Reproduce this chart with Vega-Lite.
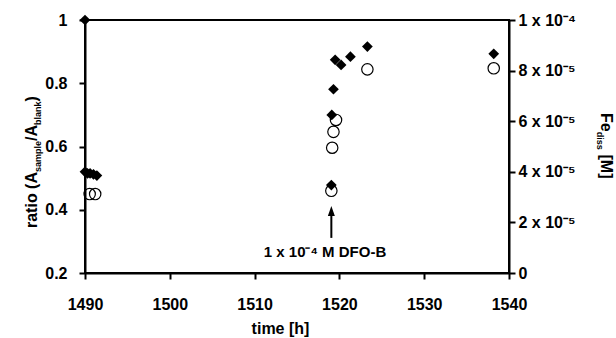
{
  "$schema": "https://vega.github.io/schema/vega-lite/v6.json",
  "width": 424,
  "height": 253,
  "autosize": {"type": "none"},
  "padding": {"left": 85, "top": 20, "right": 107, "bottom": 65},
  "background": "white",
  "config": {
    "font": "Liberation Sans",
    "view": {"stroke": "black", "strokeWidth": 2},
    "axis": {
      "domainColor": "black", "domainWidth": 2,
      "tickColor": "black", "tickWidth": 2, "tickSize": 6,
      "labelFont": "Liberation Sans", "labelFontSize": 16, "labelFontWeight": "bold", "labelColor": "black",
      "titleFont": "Liberation Sans", "titleFontSize": 16, "titleFontWeight": "bold", "titleColor": "black",
      "grid": false, "labelFlush": false
    },
    "text": {"font": "Liberation Sans", "fontWeight": "bold", "color": "black"}
  },
  "datasets": {
    "ratio": [
      {"time": 1490.0, "ratio": 1.0},
      {"time": 1490.0, "ratio": 0.52},
      {"time": 1490.3, "ratio": 0.515},
      {"time": 1490.6, "ratio": 0.515},
      {"time": 1491.0, "ratio": 0.512},
      {"time": 1491.4, "ratio": 0.508},
      {"time": 1519.05, "ratio": 0.478},
      {"time": 1519.1, "ratio": 0.70},
      {"time": 1519.3, "ratio": 0.781},
      {"time": 1519.5, "ratio": 0.874},
      {"time": 1520.2, "ratio": 0.858},
      {"time": 1521.3, "ratio": 0.884},
      {"time": 1523.3, "ratio": 0.916},
      {"time": 1538.2, "ratio": 0.893}
    ],
    "fe": [
      {"time": 1490.55, "fe": 0.0000312},
      {"time": 1491.2, "fe": 0.0000312},
      {"time": 1519.05, "fe": 0.0000325},
      {"time": 1519.15, "fe": 0.0000495},
      {"time": 1519.3, "fe": 0.0000558},
      {"time": 1519.6, "fe": 0.0000605},
      {"time": 1523.3, "fe": 0.0000805},
      {"time": 1538.2, "fe": 0.0000809}
    ],
    "one": [{}]
  },
  "layer": [
    {
      "layer": [
        {
          "data": {"name": "ratio"},
          "mark": {"type": "point", "shape": "diamond", "filled": true, "color": "black", "size": 115, "opacity": 1},
          "encoding": {
            "x": {"field": "time", "type": "quantitative", "title": "time [h]",
                  "scale": {"domain": [1490, 1540], "nice": false},
                  "axis": {"values": [1490, 1500, 1510, 1520, 1530, 1540], "format": "d", "labelPadding": 17, "titlePadding": 8, "titleX": 195, "titleAlign": "center"}},
            "y": {"field": "ratio", "type": "quantitative", "title": null,
                  "scale": {"domain": [0.2, 1], "nice": false},
                  "axis": {"values": [0.2, 0.4, 0.6, 0.8, 1], "labelPadding": 12, "labelExpr": "datum.value == 1 ? '1' : format(datum.value, '.1f')"}}
          }
        },
        {
          "data": {"name": "one"},
          "mark": {"type": "rule", "color": "black", "strokeWidth": 2},
          "encoding": {
            "x": {"datum": 1519.05, "title": null},
            "y": {"datum": 0.311, "title": null},
            "y2": {"datum": 0.393}
          }
        },
        {
          "data": {"name": "one"},
          "mark": {"type": "point", "shape": "M0,-1L0.7,1L-0.7,1Z", "filled": true, "color": "black", "size": 100, "opacity": 1},
          "encoding": {
            "x": {"datum": 1519.05, "title": null},
            "y": {"datum": 0.396, "title": null}
          }
        },
        {
          "data": {"name": "one"},
          "mark": {"type": "text", "text": "1 x 10⁻⁴ M DFO-B", "fontSize": 15, "align": "center", "baseline": "middle"},
          "encoding": {
            "x": {"datum": 1518.3, "title": null},
            "y": {"datum": 0.266, "title": null}
          }
        },
        {
          "data": {"name": "one"},
          "mark": {"type": "text", "text": "ratio (A", "fontSize": 16, "angle": 270, "align": "left", "baseline": "alphabetic", "dx": 45, "dy": -48},
          "encoding": {
            "x": {"datum": 1490, "title": null},
            "y": {"datum": 0.2, "title": null}
          }
        },
        {
          "data": {"name": "one"},
          "mark": {"type": "text", "text": "sample", "fontSize": 9, "angle": 270, "align": "left", "baseline": "alphabetic", "dx": 101, "dy": -44},
          "encoding": {
            "x": {"datum": 1490, "title": null},
            "y": {"datum": 0.2, "title": null}
          }
        },
        {
          "data": {"name": "one"},
          "mark": {"type": "text", "text": "/A", "fontSize": 16, "angle": 270, "align": "left", "baseline": "alphabetic", "dx": 132, "dy": -48},
          "encoding": {
            "x": {"datum": 1490, "title": null},
            "y": {"datum": 0.2, "title": null}
          }
        },
        {
          "data": {"name": "one"},
          "mark": {"type": "text", "text": "blank", "fontSize": 9, "angle": 270, "align": "left", "baseline": "alphabetic", "dx": 148, "dy": -44},
          "encoding": {
            "x": {"datum": 1490, "title": null},
            "y": {"datum": 0.2, "title": null}
          }
        },
        {
          "data": {"name": "one"},
          "mark": {"type": "text", "text": ")", "fontSize": 16, "angle": 270, "align": "left", "baseline": "alphabetic", "dx": 171.5, "dy": -48},
          "encoding": {
            "x": {"datum": 1490, "title": null},
            "y": {"datum": 0.2, "title": null}
          }
        }
      ]
    },
    {
      "layer": [
        {
          "data": {"name": "fe"},
          "mark": {"type": "point", "shape": "circle", "filled": false, "color": "black", "strokeWidth": 1.2, "size": 130, "opacity": 1},
          "encoding": {
            "x": {"field": "time", "type": "quantitative", "title": "time [h]", "scale": {"domain": [1490, 1540], "nice": false}},
            "y": {"field": "fe", "type": "quantitative", "title": null,
                  "scale": {"domain": [0, 0.0001], "nice": false},
                  "axis": {"orient": "right", "values": [0, 0.00002, 0.00004, 0.00006, 0.00008, 0.0001], "labelPadding": 3,
                           "labelExpr": "datum.value == 0 ? '0' : (datum.value > 0.0000999 ? '1 x 10⁻⁴' : format(datum.value * 100000, 'd') + ' x 10⁻⁵')"}}
          }
        },
        {
          "data": {"name": "one"},
          "mark": {"type": "text", "text": "Fe", "fontSize": 16, "angle": 90, "align": "left", "baseline": "alphabetic", "dx": 93, "dy": -92},
          "encoding": {
            "x": {"datum": 1540, "title": null},
            "y": {"datum": 0.0001, "title": null}
          }
        },
        {
          "data": {"name": "one"},
          "mark": {"type": "text", "text": "diss", "fontSize": 9, "angle": 90, "align": "left", "baseline": "alphabetic", "dx": 111.7, "dy": -88},
          "encoding": {
            "x": {"datum": 1540, "title": null},
            "y": {"datum": 0.0001, "title": null}
          }
        },
        {
          "data": {"name": "one"},
          "mark": {"type": "text", "text": "[M]", "fontSize": 16, "angle": 90, "align": "left", "baseline": "alphabetic", "dx": 134.5, "dy": -92},
          "encoding": {
            "x": {"datum": 1540, "title": null},
            "y": {"datum": 0.0001, "title": null}
          }
        }
      ]
    }
  ],
  "resolve": {"scale": {"y": "independent"}, "axis": {"y": "independent"}}
}
